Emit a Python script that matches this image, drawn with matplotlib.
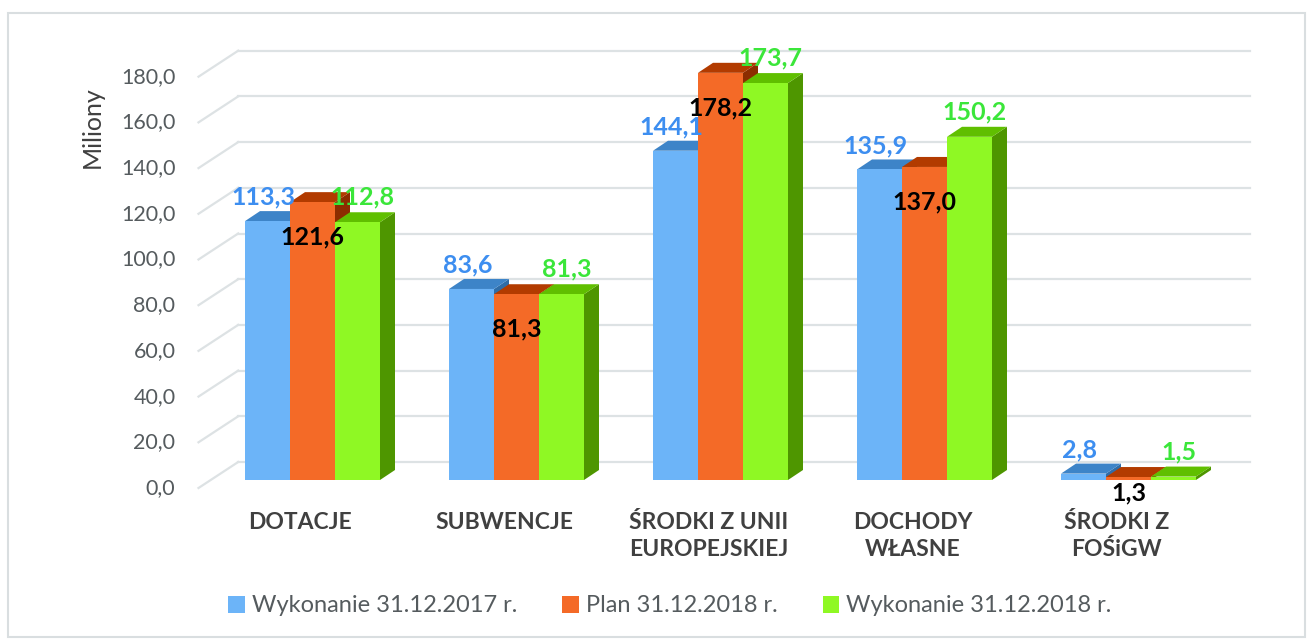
import matplotlib.pyplot as plt
from matplotlib.patches import Polygon, Rectangle

plt.rcParams['font.family'] = ['Lato', 'DejaVu Sans']

categories = ["DOTACJE", "SUBWENCJE", "ŚRODKI Z UNII\nEUROPEJSKIEJ",
              "DOCHODY\nWŁASNE", "ŚRODKI Z\nFOŚiGW"]
wyk_2017 = [113.3, 83.6, 144.1, 135.9, 2.8]
plan_2018 = [121.6, 81.3, 178.2, 137.0, 1.3]
wyk_2018 = [112.8, 81.3, 173.7, 150.2, 1.5]
series_names = ["Wykonanie 31.12.2017 r.", "Plan 31.12.2018 r.", "Wykonanie 31.12.2018 r."]
y_ticks = list(range(0, 181, 20))

W, H = 1309, 639
# pixel scale of the plot (category spacing, pixels per million)
PX_CAT = 204.0
PX_VAL = 2.285
PX_X = 1 / PX_CAT
PX_Y = 1 / PX_VAL

# (front face, top face, side face) colours per series
colors = [("#6CB4F8", "#3D84C8", "#2F6DA8"),
          ("#F46A27", "#B23B00", "#8C2D00"),
          ("#8FF824", "#60BF00", "#4E9600")]
label_colors = ["#3D8EF0", "#000000", "#3BE63A"]

fig = plt.figure(figsize=(W / 100, H / 100), dpi=100)
L, R, T, B = 140, 1270, 20, 500
ax = fig.add_axes([L / W, 1 - B / H, (R - L) / W, (B - T) / H])
ax.set_xlim((L - 312.5) / PX_CAT, (R - 312.5) / PX_CAT)
ax.set_ylim((480 - B) / PX_VAL, (480 - T) / PX_VAL)
ax.axis("off")

# chart frame
fig.patches.append(Rectangle((8 / W, 2 / H), 1297 / W, (H - 15) / H, transform=fig.transFigure,
                             fill=False, edgecolor="#D9DEE0", linewidth=1.5))

# depth offsets relative to bar front plane
front_dx, front_dy = -12 * PX_X, -8 * PX_Y
back_dx, back_dy = 27.7 * PX_X, 18 * PX_Y
bar_dx, bar_dy = 15 * PX_X, 10 * PX_Y
x_left, x_right = -0.5, 4.46

grid_col = "#DDE2E4"
for v in y_ticks:
    ax.plot([x_left + front_dx, x_left + back_dx], [v + front_dy, v + back_dy],
            color=grid_col, lw=1.6, zorder=1)
    ax.plot([x_left + back_dx, x_right + back_dx], [v + back_dy, v + back_dy],
            color=grid_col, lw=1.6, zorder=1)
    ax.text(x_left + front_dx - 23 * PX_X, v + front_dy, f"{v:.1f}".replace(".", ","),
            ha="right", va="center", fontsize=15.5, color="#555B5E")

fig.text(92 / W, 1 - 127 / H, "Miliony", rotation=90, ha="center", va="center",
         fontsize=18, color="#404040")

w = 45 * PX_X
series = [wyk_2017, plan_2018, wyk_2018]
for i, cat in enumerate(categories):
    for j, vals in enumerate(series):
        v = vals[i]
        xl = i - 1.5 * w + j * w
        front, top, side = colors[j]
        ax.add_patch(Polygon([(xl + w, 0), (xl + w + bar_dx, bar_dy),
                              (xl + w + bar_dx, v + bar_dy), (xl + w, v)],
                             closed=True, facecolor=side, edgecolor="none", zorder=2))
        ax.add_patch(Polygon([(xl, v), (xl + w, v), (xl + w + bar_dx, v + bar_dy),
                              (xl + bar_dx, v + bar_dy)],
                             closed=True, facecolor=top, edgecolor="none", zorder=2))
        ax.add_patch(Polygon([(xl, 0), (xl + w, 0), (xl + w, v), (xl, v)],
                             closed=True, facecolor=front, edgecolor="none", zorder=2))
        cx = xl + w / 2
        txt = f"{v:.1f}".replace(".", ",")
        if j == 0:
            pos = (cx - 4 * PX_X, v + 24 * PX_Y)
        elif j == 1:
            pos = (cx, max(v - 35 * PX_Y, -13 * PX_Y))
        else:
            pos = (cx + 5 * PX_X, v + 25 * PX_Y)
        ax.text(pos[0], pos[1], txt, ha="center", va="center", fontsize=18,
                fontweight="bold", color=label_colors[j], zorder=5)
    ax.text(i - 12 * PX_X, -32 * PX_Y, cat, ha="center", va="top", fontsize=16.5,
            fontweight="bold", color="#404040", linespacing=1.35)

handles = [Rectangle((0, 0), 1, 1, facecolor=c[0]) for c in colors]
fig.legend(handles, series_names, loc="center", bbox_to_anchor=(670 / W, 1 - 606 / H),
           ncol=3, frameon=False, fontsize=17, handlelength=0.7, handleheight=0.7,
           handletextpad=0.3, columnspacing=1.9, labelcolor="#555B5E")

fig.savefig("out.png", dpi=100)
